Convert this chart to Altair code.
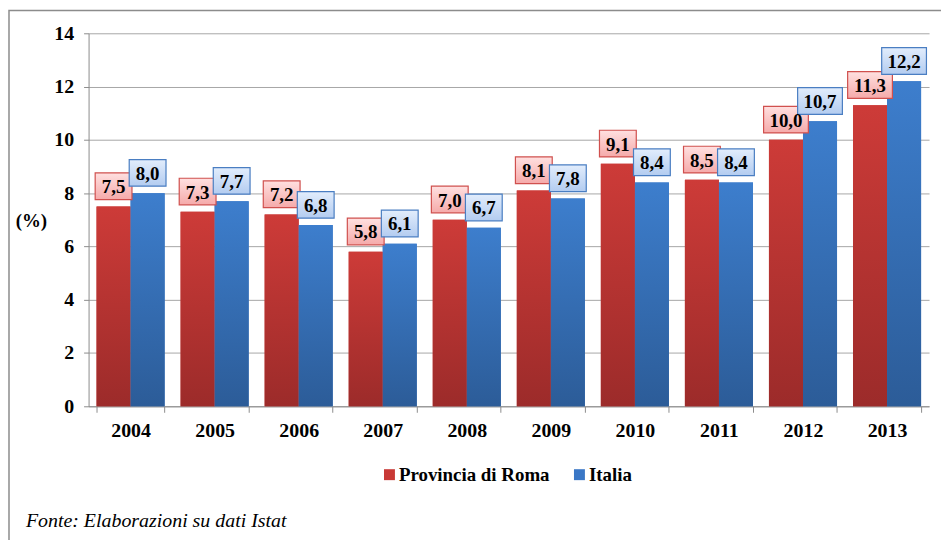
import altair as alt
import pandas as pd

anni = ["2004", "2005", "2006", "2007", "2008", "2009", "2010", "2011", "2012", "2013"]
roma = [7.5, 7.3, 7.2, 5.8, 7.0, 8.1, 9.1, 8.5, 10.0, 11.3]
italia = [8.0, 7.7, 6.8, 6.1, 6.7, 7.8, 8.4, 8.4, 10.7, 12.2]
serie = ["Provincia di Roma", "Italia"]
y_ticks = [0, 2, 4, 6, 8, 10, 12, 14]
fonte = "Fonte: Elaborazioni su dati Istat"
y_title = "(%)"

FONT = "'Liberation Serif', 'Times New Roman', 'DejaVu Serif', serif"
RED, BLUE = "#C83936", "#3A77C6"
GAP = 0.26   # gap between bar top and label box (data units)
BOXH = 1.0   # label box height (data units)

rows = []
for s, vals in zip(serie, [roma, italia]):
    for a, v in zip(anni, vals):
        lab = f"{v:.1f}".replace(".", ",")
        rows.append({
            "anno": a, "serie": s, "valore": v, "etichetta": lab,
            "box_lo": v + GAP, "box_hi": v + GAP + BOXH, "box_mid": v + GAP + BOXH / 2,
            "classe": "lungo" if len(lab) > 3 else "corto",
        })
df = pd.DataFrame(rows)


def grad(top, bottom):
    return alt.Gradient(
        gradient="linear", x1=0, x2=0, y1=0, y2=1,
        stops=[alt.GradientStop(color=top, offset=0), alt.GradientStop(color=bottom, offset=1)],
    )


x_enc = alt.X(
    "anno:N",
    sort=anni,
    scale=alt.Scale(paddingInner=0.19, paddingOuter=0.095),
    axis=alt.Axis(
        title=None, labelAngle=0, tickBand="extent", tickSize=6, tickColor="#8C8C8C",
        domainColor="#8C8C8C", labelFont=FONT, labelFontWeight="bold", labelFontSize=20,
        labelColor="black", labelPadding=8, grid=False,
    ),
)
xo_enc = alt.XOffset("serie:N", sort=serie, scale=alt.Scale(domain=serie, paddingInner=0, paddingOuter=0))
y_scale = alt.Scale(domain=[0, 14], nice=False, zero=True)
y_axis = alt.Axis(
    values=y_ticks, format="d", grid=True, gridColor="#A6A6A6", domainColor="#8C8C8C",
    tickColor="#8C8C8C", tickSize=5, labelFont=FONT, labelFontWeight="bold", labelFontSize=20,
    labelColor="black", labelPadding=10, title=y_title, titleAngle=0, titleX=-58, titleY=188,
    titleAlign="center", titleBaseline="middle", titleFont=FONT, titleFontSize=19,
    titleFontWeight="bold", titleColor="black",
)

base = alt.Chart(df)

legend_bars = base.mark_bar().encode(
    x=x_enc, xOffset=xo_enc,
    y=alt.Y("valore:Q", scale=y_scale, axis=y_axis),
    color=alt.Color(
        "serie:N", sort=serie, scale=alt.Scale(domain=serie, range=[RED, BLUE]),
        legend=alt.Legend(
            title=None, orient="none", legendX=293, legendY=434, direction="horizontal",
            symbolType="square", symbolSize=121, symbolStrokeWidth=0, labelFont=FONT,
            labelFontSize=19, labelFontWeight="bold", labelColor="black", columnPadding=20,
            labelOffset=0, padding=0,
        ),
    ),
)

bar_grads = {"Provincia di Roma": grad("#CD3B38", "#9C2B2A"), "Italia": grad("#3D7ECD", "#2C5C98")}
box_grads = {"Provincia di Roma": grad("#FFE0E0", "#F5AAAA"), "Italia": grad("#E2EDFC", "#B3CCF0")}
box_strokes = {"Provincia di Roma": "#D0504E", "Italia": "#4A7EC2"}

layers = [legend_bars]
for s in serie:
    layers.append(
        base.mark_bar(fill=bar_grads[s]).encode(
            x=x_enc, xOffset=xo_enc, y=alt.Y("valore:Q", scale=y_scale, axis=y_axis)
        ).transform_filter(alt.datum.serie == s)
    )
for s in serie:
    for cl, w in [("corto", 37), ("lungo", 45)]:
        layers.append(
            base.mark_bar(width=w, fill=box_grads[s], stroke=box_strokes[s], strokeWidth=1.2).encode(
                x=x_enc, xOffset=xo_enc,
                y=alt.Y("box_lo:Q", scale=y_scale, axis=y_axis), y2="box_hi:Q",
            ).transform_filter((alt.datum.serie == s) & (alt.datum.classe == cl))
        )
layers.append(
    base.mark_text(font=FONT, fontWeight="bold", fontSize=19, color="black", baseline="middle",
                   align="center", dy=1).encode(
        x=x_enc, xOffset=xo_enc,
        y=alt.Y("box_mid:Q", scale=y_scale, axis=y_axis), text="etichetta:N",
    )
)
layers.append(
    alt.Chart(pd.DataFrame({"t": [fonte]})).mark_text(
        font=FONT, fontStyle="italic", fontSize=20, color="black", align="left", baseline="middle"
    ).encode(x=alt.value(-63), y=alt.value(490), text="t:N")
)
layers.append(
    alt.Chart(pd.DataFrame({"k": [0]})).mark_rect(fill="transparent", stroke="#8C8C8C", strokeWidth=1.5).encode(
        x=alt.value(-80), x2=alt.value(1000), y=alt.value(-23), y2=alt.value(700)
    )
)

chart = alt.layer(*layers).properties(
    width=845, height=375,
    autosize=alt.AutoSizeParams(type="none"),
    padding={"left": 81, "top": 24, "right": 12, "bottom": 133},
).configure_view(stroke="transparent")

chart.save("out.html", embed_options={"renderer": "svg", "actions": False})
